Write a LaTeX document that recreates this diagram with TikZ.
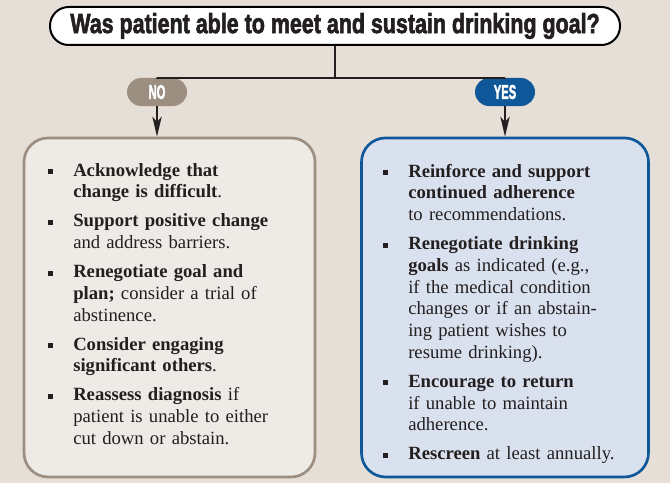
\documentclass[tikz,border=0pt]{standalone}
\usepackage{fontspec}
\setmainfont{Liberation Serif}
\newfontfamily\headfont[BoldFeatures={FakeBold=2.5}]{Liberation Sans}
\usepackage{enumitem}
\usetikzlibrary{positioning,arrows.meta}

\definecolor{bgtan}{HTML}{E6DFD7}
\definecolor{nogray}{HTML}{9C8E81}
\definecolor{nofill}{HTML}{EEEAE5}
\definecolor{yesblue}{HTML}{0E5799}
\definecolor{yesfill}{HTML}{DAE1EE}
\definecolor{ink}{HTML}{231F20}

\newcommand{\sqbul}{\rule[0.22ex]{3.8pt}{3.8pt}}
\newcommand{\squeeze}[1]{\scalebox{0.56}[1]{#1}}
\newenvironment{advice}[1]{\begin{itemize}[label=\sqbul,leftmargin=#1,labelwidth=3.8pt,labelsep=\dimexpr#1-3.8pt\relax,align=left,itemsep=5.5pt,topsep=0pt,partopsep=0pt,parsep=0pt]}{\end{itemize}}

\begin{document}
\begin{tikzpicture}[x=0.75pt,y=0.75pt,node distance=3cm,on grid,
  question/.style={draw=black,line width=1.5pt,fill=white,rounded corners=14pt,text=ink,
    minimum width=427.5pt,minimum height=28.5pt,font=\headfont\bfseries},
  pill/.style={rounded corners=10.5pt,minimum width=45pt,minimum height=21pt,inner sep=0pt,
    text=white,font=\headfont\bfseries\fontsize{15}{15}\selectfont},
  panel/.style={line width=2pt,rounded corners=18pt,minimum height=254.25pt},
  listtext/.style={anchor=north west,inner sep=0pt,text width=195pt,align=left,text=ink,
    font=\rmfamily\fontsize{14}{16.3}\selectfont},
  link/.style={line width=1.5pt,ink},
  >={Stealth[length=15pt,width=7pt,inset=4pt]}]
  \fill[bgtan] (0,0) rectangle (670,483);
  \useasboundingbox (0,0) rectangle (670,483);

  \node[question] (goal) at (335,457) {\resizebox{397pt}{15pt}{Was patient able to meet and sustain drinking goal?}};
  \node[pill,fill=nogray] (no) [below left=49.5pt and 133.5pt of goal] {\squeeze{NO}};
  \node[pill,fill=yesblue] (yes) [below right=49.5pt and 127.5pt of goal] {\squeeze{YES}};
  \node[panel,draw=nogray,fill=nofill,minimum width=218.25pt] (nobox) [below right=161.6pt and 9.4pt of no] {};
  \node[panel,draw=yesblue,fill=yesfill,minimum width=215.25pt] (yesbox) [below=161.6pt of yes] {};
  \coordinate (split) at (335,405);

  \draw[link] (goal.south) -- (split);
  \draw[link] (no.north) |- (split) -| (yes.north);
  \draw[link,->] (no.south) -- (no.south |- nobox.north);
  \draw[link,->] (yes.south) -- (yes.south |- yesbox.north);

  \node[listtext] (notext) at (48,329) {\begin{advice}{18.75pt}
    \item \textbf{Acknowledge that\\ change is difficult}.
    \item \textbf{Support positive change}\\ and address barriers.
    \item \textbf{Renegotiate goal and\\ plan;} consider a trial of\\ abstinence.
    \item \textbf{Consider engaging\\ significant others}.
    \item \textbf{Reassess diagnosis} if\\ patient is unable to either\\ cut down or abstain.
  \end{advice}};
  \node[listtext] (yestext) at (383,328) {\begin{advice}{18.75pt}
    \item \textbf{Reinforce and support\\ continued adherence}\\ to recommendations.
    \item \textbf{Renegotiate drinking\\ goals} as indicated (e.g.,\\ if the medical condition\\ changes or if an abstain-\\ing patient wishes to\\ resume drinking).
    \item \textbf{Encourage to return}\\ if unable to maintain\\ adherence.
    \item \textbf{Rescreen} at least annually.
  \end{advice}};
\end{tikzpicture}
\end{document}
